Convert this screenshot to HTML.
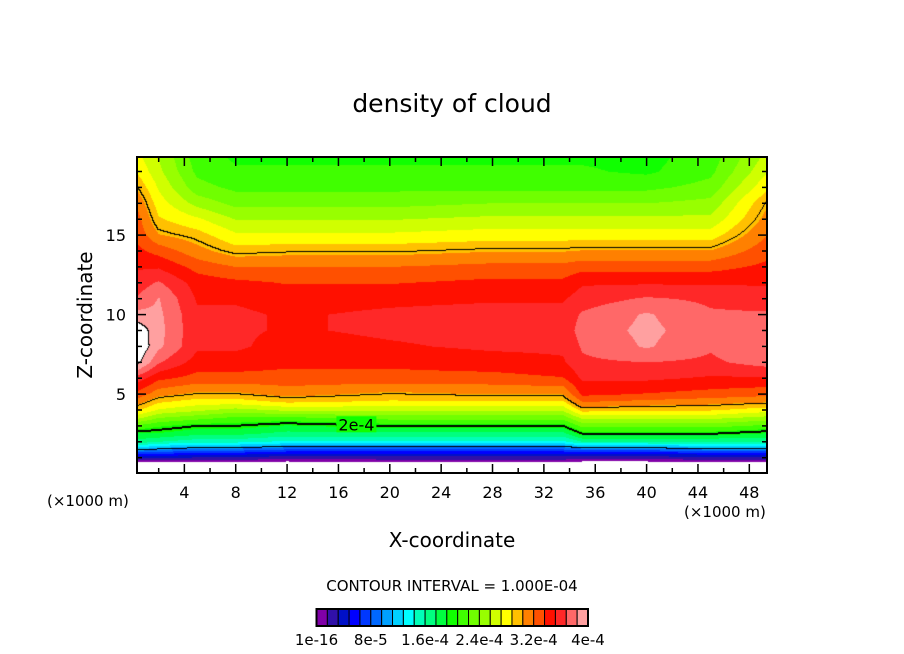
<!DOCTYPE html>
<html><head><meta charset="utf-8"><style>
body{margin:0;background:#fff;width:904px;height:654px;overflow:hidden;font-family:"Liberation Sans",sans-serif;}
#wrap{position:relative;width:904px;height:654px;}
canvas{position:absolute;left:0;top:0;}
svg{position:absolute;left:0;top:0;}
text{font-family:"DejaVu Sans","Liberation Sans",sans-serif;fill:#000;}
</style></head><body><div id="wrap">
<canvas id="cv" width="904" height="654"></canvas>
<svg id="sv" width="904" height="654"></svg>
</div>
<script>
// grid data (values in units of 1e-5)
const xs = [0.4, 2, 5, 8, 12, 20, 28, 33.5, 35, 40, 45, 49.4];
const zs = [0.3,0.8,1.2,1.6,2,2.5,3,3.5,4,4.5,5,6,7,8,9,10,11,12,13,14,15,16,17,18,19,20];
const col0 = [-6,1,6,12,17,19,22,26,29,31,33,36,40.5,41.5,41,39,37,36,35,34,33,32.5,31.5,30,28.5,27.5];
const col1 = [-6,1,6,11,16,19,21,24,27,29,31,34,37,38.8,39,38.8,38.5,37,35,33,30.5,29,28,27,26,25.5];
const col2 = [-6,1,5,10,15,18,20,23,26,28,30,33,34.5,35.5,35.5,35.5,35,34.5,33,31,29.5,27.5,25,23,22,21.5];
const col3 = [-6,1,5,10,15,18,20,22,25,28,30,33,34.5,35.5,35.5,35.5,35,34,32,29.5,27.5,25.5,23.5,22,21,20.5];
const col4 = [-6,0.5,4,9,14,17,19,22,26,29,31,33,34,34.5,35,35,34.5,33.5,32,29.8,27.5,25.5,23.5,22,21,20.5];
const col5 = [-6,1,4,9,14,17,20,23,26,28.5,30,33,34,35,35.5,35.5,34.8,33.5,32,29.8,27.5,25.5,23.5,22,21,20.5];
const col6 = [-6,1,4,9,14,17,20,23,26,28.5,30.5,33,34.5,35.5,35.8,35.8,35,34,32.5,30.3,28,26,24,22,21,20.5];
const col7 = [-6,1,4,9,14,17,20,23,26,28.5,30.5,33.5,35,35.5,35.8,35.8,35,34,32.5,30.3,28,26,24,22,21,20.5];
const col8 = [-6,0.5,4,10,16,20,23,26,29.5,32,34,35.5,36.5,37,37.5,37,36,35,33,30.5,28,26,24,22,21,20.5];
const col9 = [-6,0.5,4,10,16,20,23,26,29,31.5,33.5,35.5,36.8,38.6,38.8,38.6,37,35,33,30.5,28,26,24,22,20.5,20.3];
const col10 = [-6,1,5,11,16,20,23,26,29,31,33,35,36.5,37,37.5,37,36.5,35,33,30.5,28,26,24.5,23,22,21.5];
const col11 = [-6,1,5,11,16,19,22,25,28,30.5,32.5,35,37.5,38.5,38,37,36,35,34,33,32,31,30.2,28.5,27,26];
const cols = [col0,col1,col2,col3,col4,col5,col6,col7,col8,col9,col10,col11];
const palette = ["#8000a8","#3010a8","#0010c8","#0000ff","#0038ff","#0068ff","#00a0ff","#00d0ff","#00ffff","#00ffb8","#00ff80","#00ff40","#10ff00","#40ff00","#70ff00","#98ff00","#d0ff00","#ffff00","#ffc000","#ff8000","#ff5000","#ff1000","#ff2828","#ff6868","#ffa0a0"];
const xTicks = [4,8,12,16,20,24,28,32,36,40,44,48];
const yTicks = [5,10,15];
const cbLabels = ["1e-16","8e-5","1.6e-4","2.4e-4","3.2e-4","4e-4"];
const step = 1.6, lineStep = 10;

const L=137,R=767,T=157,B=473;
const px = x => 133 + x*12.84;
const py = z => 473.6 - z*15.9;
const ix = p => (p-133)/12.84;
const iz = p => (473.6-p)/15.9;

function seg(arr,v){let i=0;while(i<arr.length-2&&v>arr[i+1])i++;let t=(v-arr[i])/(arr[i+1]-arr[i]);return [i,Math.max(0,Math.min(1,t))];}
function val(x,z){const [i,tx]=seg(xs,x);const [j,tz]=seg(zs,z);
 const a=cols[i][j],b=cols[i+1][j],c=cols[i][j+1],d=cols[i+1][j+1];
 return (a*(1-tx)+b*tx)*(1-tz)+(c*(1-tx)+d*tx)*tz;}

const cv=document.getElementById('cv');const ctx=cv.getContext('2d');
const W=R-L,H=B-T;const img=ctx.createImageData(W,H);
const V=new Float32Array(W*H);
for(let yy=0;yy<H;yy++)for(let xx=0;xx<W;xx++)V[yy*W+xx]=val(ix(L+xx+0.5),iz(T+yy+0.5));
function hex(h){return [parseInt(h.substr(1,2),16),parseInt(h.substr(3,2),16),parseInt(h.substr(5,2),16)];}
const pal=palette.map(hex);
for(let yy=0;yy<H;yy++)for(let xx=0;xx<W;xx++){
 const v=V[yy*W+xx];let c=[255,255,255];
 if(v>0&&v<40){c=pal[Math.min(24,Math.floor(v/step))];}
 const k=(yy*W+xx)*4;
 const cl=Math.floor(v/lineStep);
 let edge=false;
 for(const [dx,dy] of [[1,0],[0,1]]){const x2=xx+dx,y2=yy+dy;if(x2<W&&y2<H){const v2=V[y2*W+x2];const c2=Math.floor(v2/lineStep);if(c2!==cl&&Math.max(v,v2)>=lineStep&&Math.min(v,v2)>0.5){edge=true;}}}
 if(edge)c=[0,0,0];
 img.data[k]=c[0];img.data[k+1]=c[1];img.data[k+2]=c[2];img.data[k+3]=255;
}
ctx.putImageData(img,L,T);
// thicken 2e-4 line
for(let yy=1;yy<H;yy++)for(let xx=0;xx<W;xx++){const a=V[yy*W+xx],b=V[(yy-1)*W+xx];if((a-20)*(b-20)<0){ctx.fillStyle='#000';ctx.fillRect(L+xx,T+yy-1,1,2);}}

const NS='http://www.w3.org/2000/svg';const sv=document.getElementById('sv');
function el(tag,attrs,txt){const e=document.createElementNS(NS,tag);for(const k in attrs)e.setAttribute(k,attrs[k]);if(txt!==undefined)e.textContent=txt;sv.appendChild(e);return e;}
let e;
const lx=px(17.4),lz=py(3.1);
e=el('rect',{x:lx-20,y:lz-8,width:40,height:16,fill:palette[12]});


e=el('text',{x:lx,y:lz+6,'font-size':16,'text-anchor':'middle'},'2e-4');


e=el('rect',{x:L,y:T,width:W,height:H,fill:'none',stroke:'#000','stroke-width':2});


for(let x=2;x<=48;x+=2){const major=x%4===0;const len=major?9:5;
 e=el('line',{x1:px(x),x2:px(x),y1:B,y2:B-len,stroke:'#000','stroke-width':1.5});
 
 
 e=el('line',{x1:px(x),x2:px(x),y1:T,y2:T+len,stroke:'#000','stroke-width':1.5});
 
 }
for(const x of xTicks){e=el('text',{x:px(x),y:498,'font-size':16,'text-anchor':'middle'},String(x));
 
 }
for(let z=1;z<=19;z++){const major=z%5===0;const len=major?9:5;
 e=el('line',{x1:L,x2:L+len,y1:py(z),y2:py(z),stroke:'#000','stroke-width':1.5});
 
 
 e=el('line',{x1:R,x2:R-len,y1:py(z),y2:py(z),stroke:'#000','stroke-width':1.5});
 
 }
for(const z of yTicks){e=el('text',{x:126,y:py(z)+6,'font-size':16,'text-anchor':'end'},String(z));
 
 }
e=el('text',{x:452,y:112,'font-size':25,'text-anchor':'middle'},'density of cloud');


e=el('text',{x:452,y:547,'font-size':20,'text-anchor':'middle'},'X-coordinate');


e=el('text',{x:0,y:0,'font-size':20,'text-anchor':'middle',transform:'translate(92,315) rotate(-90)'},'Z-coordinate');


e=el('text',{x:47,y:506,'font-size':15},'(×1000 m)');


e=el('text',{x:684,y:517,'font-size':15},'(×1000 m)');


e=el('text',{x:452,y:591,'font-size':15,'text-anchor':'middle'},'CONTOUR INTERVAL = 1.000E-04');


const cbx=316.5,cbw=271.5/palette.length;
palette.forEach((c,i)=>{e=el('rect',{x:cbx+i*cbw,y:609,width:cbw,height:17,fill:c,stroke:'#000','stroke-width':1});
 
 });
e=el('rect',{x:cbx,y:609,width:271.5,height:17,fill:'none',stroke:'#000','stroke-width':2});


cbLabels.forEach((t,i)=>{e=el('text',{x:cbx+i*5*cbw,y:645,'font-size':15,'text-anchor':'middle'},t);
 
 });
</script></body></html>
